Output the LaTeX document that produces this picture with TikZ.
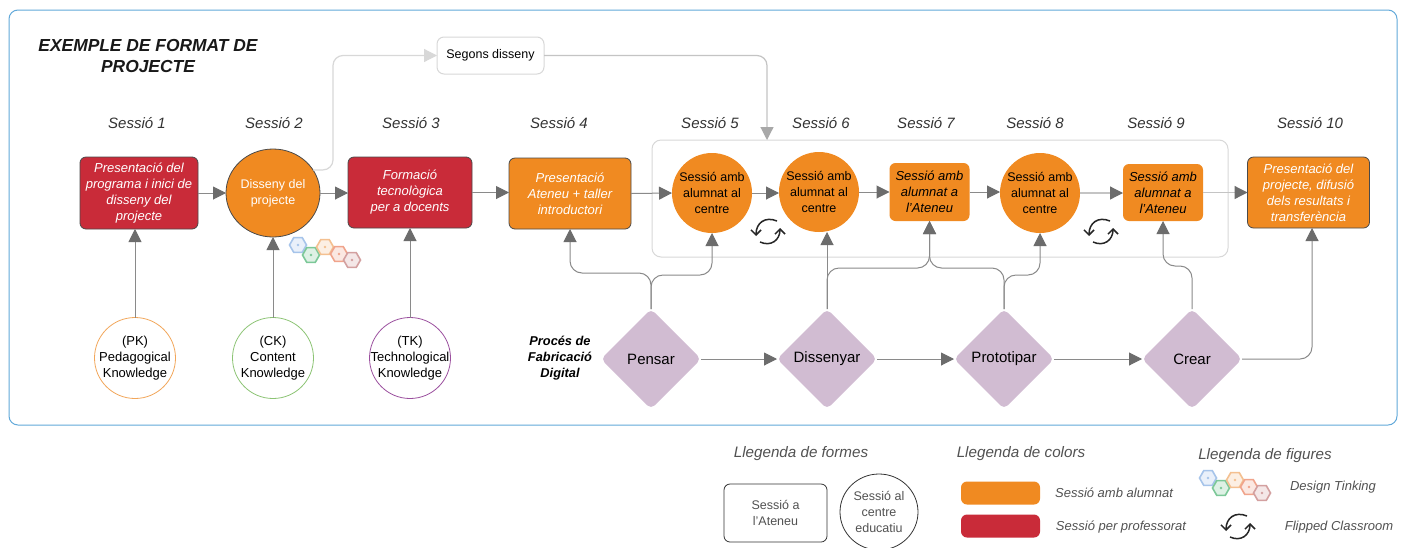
\documentclass[tikz,border=0pt]{standalone}
\usepackage{fontspec}
\setmainfont{Liberation Sans}
\usetikzlibrary{arrows.meta,shapes.geometric}
\definecolor{orng}{HTML}{F08A21}
\definecolor{redd}{HTML}{C92B39}
\definecolor{purp}{HTML}{D1BCD2}
\definecolor{conn}{HTML}{8A8A8A}
\definecolor{tipc}{HTML}{6C6C6C}
\definecolor{lite}{HTML}{D8D8D8}
\definecolor{mid}{HTML}{C4C4C4}
\definecolor{midtip}{HTML}{A8A8A8}
\definecolor{frameblue}{HTML}{62A9DA}
\definecolor{edgec}{HTML}{4A4A4A}
\definecolor{labc}{HTML}{333333}
\definecolor{hexa1}{HTML}{A6C4EA}
\definecolor{hexa2}{HTML}{7CC898}
\definecolor{hexa3}{HTML}{F4C090}
\definecolor{hexa4}{HTML}{F0A48C}
\definecolor{hexa5}{HTML}{D3A0A0}
\definecolor{kno}{HTML}{F2A65A}
\definecolor{knc}{HTML}{8CC474}
\definecolor{knt}{HTML}{9B4F9E}
\tikzset{
  x=1pt,y=-1pt,
  lbl/.style={font=\fontsize{12.5}{16}\selectfont,align=center,inner sep=0pt,outer sep=0pt},
  sess/.style={lbl,font=\fontsize{15}{17}\selectfont\itshape,text=labc},
  redbox/.style={lbl,draw=edgec,line width=0.8pt,fill=redd,rounded corners=6pt,text=white,font=\fontsize{13}{16}\selectfont\itshape},
  orbox/.style={lbl,draw=edgec,line width=0.8pt,fill=orng,rounded corners=6pt,text=white,font=\fontsize{13}{16}\selectfont\itshape},
  orsmall/.style={lbl,fill=orng,rounded corners=6pt,text=black,font=\fontsize{13}{16}\selectfont\itshape},
  orcirc/.style={lbl,ellipse,fill=orng,text=black,inner sep=-12pt},
  kncirc/.style={lbl,circle,draw=#1,line width=0.8pt,minimum size=81pt,text=black,inner sep=-16pt,font=\fontsize{13}{16}\selectfont},
  dia/.style={lbl,diamond,fill=purp,minimum width=100pt,minimum height=100pt,rounded corners=5pt,font=\fontsize{15}{17}\selectfont},
  arr/.style={draw=conn,line width=1pt,-{Triangle[length=13pt,width=13pt,fill=tipc,color=tipc]}},
  arrlite/.style={draw=lite,line width=1.2pt,rounded corners=10pt,-{Triangle[length=13pt,width=13pt,fill=lite,color=lite]}},
  arrmid/.style={draw=mid,line width=1.2pt,rounded corners=10pt,-{Triangle[length=13pt,width=13pt,fill=midtip,color=midtip]}},
  arrfade/.style={draw=mid,line width=1.2pt,-{Triangle[length=13pt,width=13pt,fill=tipc,color=tipc]}},
  arrdark/.style={arr,rounded corners=12pt},
  legt/.style={lbl,font=\fontsize{15.2}{17}\selectfont\itshape,text=labc!85},
  legs/.style={lbl,font=\fontsize{13}{15}\selectfont\itshape,text=labc!85},
}
\newcommand{\hexa}[3]{\node[regular polygon,regular polygon sides=6,draw=#3,fill=#3!25,line width=1.6pt,minimum size=17pt,inner sep=0pt] at (#1,#2) {};\fill[#3] (#1,#2) circle (1.4pt);}
\newcommand{\hexset}[2]{%
  \hexa{#1}{#2}{hexa1}
  \hexa{#1+13}{#2+10}{hexa2}
  \hexa{#1+27}{#2+2}{hexa3}
  \hexa{#1+41}{#2+9}{hexa4}
  \hexa{#1+54}{#2+15}{hexa5}}
\newcommand{\flipicon}[2]{%
  \draw[black!85,line width=1.5pt,-{Straight Barb[length=5pt,width=10pt]}] (#1+9,#2-11) .. controls (#1-3,#2-16) and (#1-12,#2-9) .. (#1-12,#2+4);
  \draw[black!85,line width=1.5pt,-{Straight Barb[length=5pt,width=10pt]}] (#1-8,#2+10) .. controls (#1+3,#2+15) and (#1+12,#2+8) .. (#1+12,#2-4);}
\begin{document}
\begin{tikzpicture}
\useasboundingbox (0,0) rectangle (1404,547);
\fill[white] (0,0) rectangle (1404,547);
\draw[frameblue,line width=1pt,rounded corners=9pt] (9,10) rectangle (1397,425);
\node[lbl,font=\fontsize{17.4}{21}\selectfont\bfseries\itshape,text=black!90] (title) at (148,56) {EXEMPLE DE FORMAT DE\\PROJECTE};
\draw[lite,line width=1pt,rounded corners=9pt] (652,140) rectangle (1228,257);

\foreach \n/\x/\t in {a/137/1,b/274/2,c/411/3,d/559/4,e/710/5,f/821/6,g/926/7,h/1035/8,i/1156/9,j/1310/10}
  \node[sess] (lab\n) at (\x,123) {Sessió \t};

\node[lbl,draw=lite,line width=1pt,fill=white,rounded corners=7pt,minimum width=107pt,minimum height=37pt,font=\fontsize{12.5}{15}\selectfont] (seg) at (490.5,55.5) {Segons disseny};

\node[redbox,minimum width=118pt,minimum height=72pt] (s1) at (139,193) {Presentació del\\programa i inici de\\disseny del\\projecte};
\node[orcirc,draw=edgec,line width=0.8pt,minimum width=94pt,minimum height=88pt,text=white] (s2) at (273,193) {Disseny del\\projecte};
\node[redbox,minimum width=124pt,minimum height=71pt] (s3) at (410,192.5) {Formació\\tecnològica\\per a docents};
\node[orbox,minimum width=122pt,minimum height=71pt] (s4) at (570,193.5) {Presentació\\Ateneu + taller\\introductori};
\node[orcirc,minimum width=80pt,minimum height=80pt] (s5) at (712,193) {Sessió amb\\alumnat al\\centre};
\node[orcirc,minimum width=80pt,minimum height=80pt] (s6) at (819,192) {Sessió amb\\alumnat al\\centre};
\node[orsmall,minimum width=80pt,minimum height=58pt] (s7) at (929.5,192) {Sessió amb\\alumnat a\\l'Ateneu};
\node[orcirc,minimum width=80pt,minimum height=80pt] (s8) at (1040,193) {Sessió amb\\alumnat al\\centre};
\node[orsmall,minimum width=80pt,minimum height=57pt] (s9) at (1163,192.5) {Sessió amb\\alumnat a\\l'Ateneu};
\node[orbox,minimum width=122pt,minimum height=71pt] (s10) at (1308.5,192.5) {Presentació del\\projecte, difusió\\dels resultats i\\transferència};

\node[kncirc=kno] (pk) at (135,358) {(PK)\\Pedagogical\\Knowledge};
\node[kncirc=knc] (ck) at (273,358) {(CK)\\Content\\Knowledge};
\node[kncirc=knt] (tk) at (410,358) {(TK)\\Technological\\Knowledge};

\node[lbl,font=\fontsize{12.8}{16}\selectfont\bfseries\itshape] (proc) at (560,358) {Procés de\\Fabricació\\Digital};
\node[dia] (pen) at (651,359) {Pensar};
\node[dia] (dis) at (827,359) {Dissenyar};
\node[dia] (pro) at (1004,359) {Prototipar};
\node[dia] (cre) at (1192,359) {Crear};

% upper row
\draw[arr] (s1.east |- s2.west) -- (s2.west);
\draw[arr] (s2.east) -- (s3.west |- s2.east);
\draw[arr] (s3.east) -- (s4.west |- s3.east);
\draw[arr] (s4.east) -- (s5.west);
\draw[arr] (s5.east) -- (s6.west |- s5.east);
\draw[arr] (s6.east) -- (s7.west |- s6.east);
\draw[arr] (s7.east) -- (s8.west |- s7.east);
\draw[arrfade] (s8.east) -- (s9.west |- s8.east);
\draw[arrfade] (s9.east) -- (s10.west |- s9.east);
% Segons disseny
\draw[arrlite] (s2.30) -- ++(20,0) |- (seg.west);
\coordinate (contop) at (767,140);
\draw[arrmid] (seg.east) -| (contop);
% knowledge
\draw[arr] (pk) -- (pk |- s1.south);
\draw[arr] (ck) -- (s2);
\draw[arr] (tk) -- (tk |- s3.south);
% diamonds row
\draw[arr] (pen) -- (dis);
\draw[arr] (dis) -- (pro);
\draw[arr] (pro) -- (cre);
\draw[arrdark] (cre.east) -| ([xshift=3.5pt]s10.south);
% branches
\draw[arrdark] (pen.north) -- ++(0,-36) -| (s4.south);
\draw[arrdark] (pen.north) -- ++(0,-34) -| (s5.south);
\draw[arr] (dis.north) -- (dis.north |- s6.south);
\draw[arrdark] (dis.north) -- ++(0,-41) -| (s7.south);
\draw[arrdark] (pro.north) -- ++(0,-41) -| (s7.south);
\draw[arrdark] (pro.north) -- ++(0,-34) -| (s8.south);
\draw[arrdark] (cre.north) -- ++(0,-43) -| (s9.south);

% icons
\hexset{298}{245}
\flipicon{768}{232}
\flipicon{1101}{232}

% legend
\node[legt] (l1) at (801,454) {Llegenda de formes};
\node[legt] (l2) at (1021,454) {Llegenda de colors};
\node[legt] (l3) at (1265,456) {Llegenda de figures};
\node[lbl,draw=black!80,line width=0.8pt,rounded corners=6pt,minimum width=103pt,minimum height=58pt,text=labc!85] (lr) at (775.5,513) {Sessió a\\l'Ateneu};
\node[lbl,ellipse,draw=black!80,line width=0.8pt,minimum width=78pt,minimum height=76pt,text=labc!85] (le) at (879,512) {Sessió al\\centre\\educatiu};
\node[lbl,fill=orng,rounded corners=6pt,minimum width=79pt,minimum height=23pt] (lo) at (1000.5,493) {};
\node[lbl,fill=redd,rounded corners=6pt,minimum width=79pt,minimum height=23pt] (lred) at (1000.5,526) {};
\node[legs] (lt1) at (1114,493) {Sessió amb alumnat};
\node[legs] (lt2) at (1121,527) {Sessió per professorat};
\node[legs] (lt3) at (1333,487) {Design Tinking};
\node[legs] (lt4) at (1339,527) {Flipped Classroom};
\hexset{1208}{478}
\flipicon{1238}{527}
\end{tikzpicture}
\end{document}
